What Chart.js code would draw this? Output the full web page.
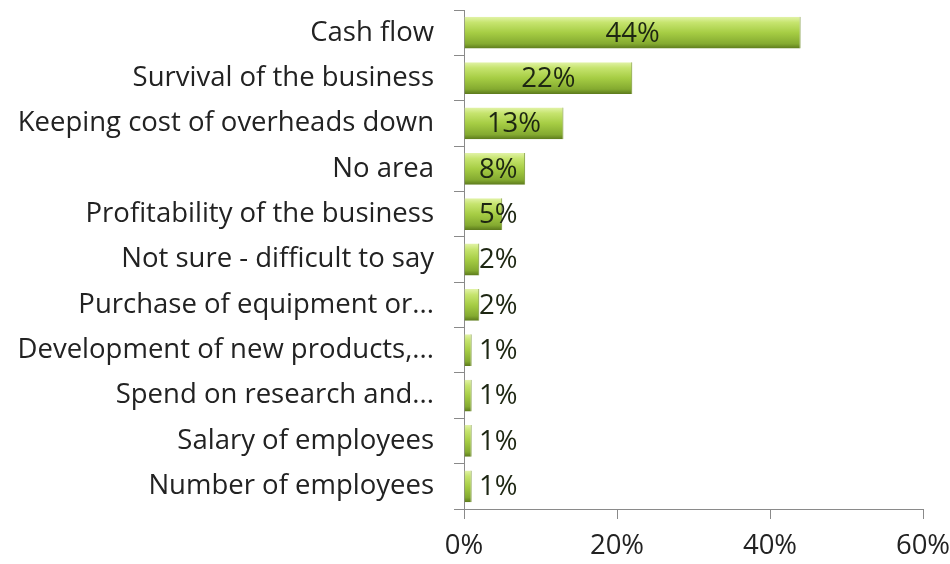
<!DOCTYPE html>
<html>
<head>
<meta charset="utf-8">
<script src="https://cdn.jsdelivr.net/npm/chart.js@4"></script>
<style>
  html, body { margin: 0; padding: 0; background: #fff; }
  #wrap { width: 950px; height: 564px; }
</style>
</head>
<body>
<div id="wrap"><canvas id="c" width="950" height="564"></canvas></div>
<script>
// ---------- data ----------
const categories = [
  'Cash flow',
  'Survival of the business',
  'Keeping cost of overheads down',
  'No area',
  'Profitability of the business',
  'Not sure - difficult to say',
  'Purchase of equipment or...',
  'Development of new products,...',
  'Spend on research and...',
  'Salary of employees',
  'Number of employees',
];
const shares = [44, 22, 13, 8, 5, 2, 2, 1, 1, 1, 1];   // %
const xTicks = [0, 20, 40, 60];

const FONT = '"Open Sans", Lato, sans-serif';
const FSIZE = 27.5;
const BAR_PCT = 0.7;

// vertical gradient per bar (light top -> dark bottom)
function barFill(ctx) {
  const chart = ctx.chart;
  const y = chart.scales.y;
  if (!y || ctx.dataIndex === undefined) return '#9cc43f';
  const c = y.getPixelForValue(ctx.dataIndex);
  const h = (y.height / categories.length) * BAR_PCT;
  if (!isFinite(c) || !isFinite(h) || h <= 0) return '#9cc43f';
  const g = chart.ctx.createLinearGradient(0, c - h / 2, 0, c + h / 2);
  g.addColorStop(0, '#e2f3a8');
  g.addColorStop(0.18, '#c6e46e');
  g.addColorStop(0.5, '#a6cd44');
  g.addColorStop(0.85, '#84aa30');
  g.addColorStop(1, '#5c7a1c');
  return g;
}

// value labels: centred in the bar, kept clear of the axis
const valueLabels = {
  id: 'valueLabels',
  afterDatasetsDraw(chart) {
    const ctx = chart.ctx;
    const left = chart.chartArea.left;
    const meta = chart.getDatasetMeta(0);
    ctx.save();
    ctx.font = FSIZE + 'px ' + FONT;
    ctx.fillStyle = '#1d2612';
    ctx.textAlign = 'center';
    ctx.textBaseline = 'middle';
    meta.data.forEach(function (el, i) {
      const txt = shares[i] + '%';
      const w = ctx.measureText(txt).width;
      const x = Math.max((el.x + el.base) / 2, left + 15 + w / 2);
      ctx.fillText(txt, x, el.y + 1);
    });
    ctx.restore();
  },
};

new Chart(document.getElementById('c'), {
  type: 'bar',
  data: {
    labels: categories,
    datasets: [{
      data: shares,
      backgroundColor: barFill,
      borderColor: '#6f8c27',
      borderWidth: { top: 0, bottom: 0, left: 0, right: 1 },
      barPercentage: BAR_PCT,
      categoryPercentage: 1,
    }],
  },
  options: {
    indexAxis: 'y',
    responsive: false,
    animation: false,
    layout: { padding: { top: 10, right: 27, bottom: 0, left: 0 } },
    plugins: { legend: { display: false }, tooltip: { enabled: false } },
    scales: {
      x: {
        min: 0,
        max: 60,
        afterBuildTicks: function (s) { s.ticks = xTicks.map(function (v) { return { value: v }; }); },
        afterFit: function (s) { s.height = 55; s.paddingLeft = 0; s.paddingRight = 0; },
        grid: { drawOnChartArea: false, tickLength: 10, color: '#8a8a8a' },
        border: { color: '#8a8a8a' },
        ticks: {
          callback: function (v) { return v + '%'; },
          font: { family: FONT, size: FSIZE },
          color: '#222',
          padding: 11,
          maxRotation: 0,
        },
      },
      y: {
        afterFit: function (s) { s.width = 464; s.paddingTop = 0; s.paddingBottom = 0; },
        grid: { drawOnChartArea: false, tickLength: 10, color: '#8a8a8a' },
        border: { color: '#8a8a8a' },
        ticks: {
          font: { family: FONT, size: FSIZE },
          color: '#222',
          padding: 20,
          autoSkip: false,
        },
      },
    },
  },
  plugins: [valueLabels],
});
</script>
</body>
</html>
